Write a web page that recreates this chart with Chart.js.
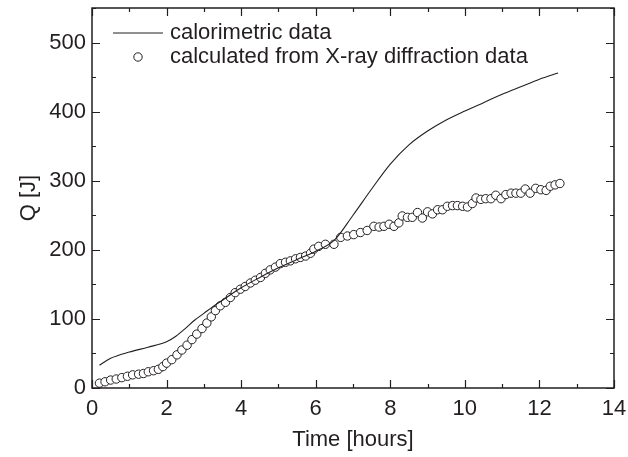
<!DOCTYPE html>
<html><head><meta charset="utf-8">
<script src="https://cdn.jsdelivr.net/npm/chart.js@4/dist/chart.umd.min.js"></script>
<style>html,body{margin:0;padding:0;background:#fff}</style>
</head><body>
<canvas id="c" width="628" height="457"></canvas>
<script>
// Calorimetric data (line)
const calTime = [0.2, 0.5, 1.0, 1.5, 2.0, 2.25, 2.5, 2.75, 3.0, 3.25, 3.5, 4.0, 4.5, 5.0, 5.5, 6.0, 6.5, 7.0, 7.5, 8.0, 8.5, 9.0, 9.5, 10.0, 10.5, 11.0, 11.5, 12.0, 12.5];
const calQ    = [33, 43, 52, 59, 67, 75, 86, 98, 108, 118, 127, 145, 160, 174, 186, 198, 214, 250, 288, 324, 352, 372, 388, 401, 413, 425, 436, 447, 456];
// Calculated from X-ray diffraction data (circles)
const xrdTime = [0.2, 0.35, 0.5, 0.65, 0.8, 0.95, 1.09, 1.25, 1.38, 1.51, 1.65, 1.78, 1.9, 2.0, 2.14, 2.28, 2.41, 2.55, 2.68, 2.81, 2.95, 3.08, 3.2, 3.31, 3.44, 3.58, 3.71, 3.84, 3.98, 4.11, 4.25, 4.38, 4.52, 4.65, 4.78, 4.92, 5.05, 5.19, 5.32, 5.46, 5.59, 5.73, 5.86, 5.95, 6.08, 6.26, 6.49, 6.67, 6.85, 7.02, 7.2, 7.38, 7.56, 7.7, 7.83, 7.97, 8.1, 8.23, 8.32, 8.46, 8.59, 8.73, 8.86, 9.0, 9.13, 9.27, 9.4, 9.53, 9.67, 9.8, 9.94, 10.07, 10.2, 10.3, 10.43, 10.56, 10.7, 10.83, 10.97, 11.1, 11.24, 11.37, 11.5, 11.62, 11.75, 11.9, 12.04, 12.18, 12.29, 12.42, 12.55];
const xrdQ    = [7, 9, 11.5, 13, 15, 17, 19, 20, 21, 23.5, 25, 27, 31, 36, 41, 48, 55, 62, 70, 78, 86, 94, 103, 112, 119, 124, 131, 138, 143, 147, 152, 156, 160, 166, 171, 175, 180, 182, 184, 187, 189, 191, 195, 201, 205, 208, 208, 218, 220, 222, 225, 228, 234, 233, 234, 237, 234, 239, 249, 247, 247, 254, 246, 255, 252, 258, 258, 263, 264, 264, 263, 262, 267, 275, 273, 274, 274, 279, 274, 280, 282, 282, 282, 288, 282, 289, 287, 286, 292, 294, 296];
const xTickValues = [0, 2, 4, 6, 8, 10, 12, 14];
const yTickValues = [0, 100, 200, 300, 400, 500];
const seriesLabels = ['calorimetric data', 'calculated from X-ray diffraction data'];
const xTitle = 'Time [hours]';
const yTitle = 'Q [J]';

const INK = '#231f20';
const FONT = '"Liberation Sans", Arial, sans-serif';
const FS = 22;

const framePlugin = {
  id: 'frame',
  afterDraw(chart) {
    const {ctx, chartArea: a, scales: {x, y}} = chart;
    ctx.save();
    ctx.strokeStyle = INK;
    ctx.lineWidth = 1.5;
    ctx.strokeRect(a.left, a.top, a.right - a.left, a.bottom - a.top);
    ctx.lineWidth = 1.2;
    ctx.beginPath();
    for (let v = x.min; v <= x.max + 1e-9; v += 1) {
      const px = Math.round(x.getPixelForValue(v)) + 0.5;
      const len = (v % 2 === 0) ? 8 : 4;
      ctx.moveTo(px, a.bottom); ctx.lineTo(px, a.bottom - len);
      ctx.moveTo(px, a.top); ctx.lineTo(px, a.top + len);
    }
    for (let v = y.min; v <= y.max + 1e-9; v += 50) {
      const py = Math.round(y.getPixelForValue(v)) + 0.5;
      const len = (v % 100 === 0) ? 8 : 4;
      ctx.moveTo(a.left, py); ctx.lineTo(a.left + len, py);
      ctx.moveTo(a.right, py); ctx.lineTo(a.right - len, py);
    }
    ctx.stroke();

    // legend
    ctx.font = FS + 'px ' + FONT;
    ctx.fillStyle = INK;
    ctx.textBaseline = 'middle';
    const lx = a.left + 21, tx = a.left + 78;
    const ly1 = a.top + 25, ly2 = a.top + 49;
    ctx.lineWidth = 1;
    ctx.beginPath(); ctx.moveTo(lx, ly1); ctx.lineTo(lx + 50, ly1); ctx.stroke();
    ctx.fillText(seriesLabels[0], tx, ly1);
    ctx.beginPath(); ctx.arc(lx + 25, ly2, 4.2, 0, Math.PI * 2);
    ctx.fillStyle = '#fff'; ctx.fill(); ctx.strokeStyle = INK; ctx.stroke();
    ctx.fillStyle = INK;
    ctx.fillText(seriesLabels[1], tx, ly2);
    ctx.restore();
  }
};

new Chart(document.getElementById('c'), {
  type: 'scatter',
  data: {
    datasets: [
      {
        label: seriesLabels[0],
        data: calTime.map((t, i) => ({x: t, y: calQ[i]})),
        showLine: true, cubicInterpolationMode: 'monotone',
        borderColor: INK, borderWidth: 1.1, pointRadius: 0, fill: false
      },
      {
        label: seriesLabels[1],
        data: xrdTime.map((t, i) => ({x: t, y: xrdQ[i]})),
        showLine: false, pointRadius: 4.2, pointStyle: 'circle',
        pointBackgroundColor: '#fff', pointBorderColor: INK, pointBorderWidth: 1
      }
    ]
  },
  options: {
    responsive: false, animation: false, devicePixelRatio: 1,
    layout: {padding: {top: 8, right: 14, left: 0, bottom: 0}},
    plugins: {legend: {display: false}, tooltip: {enabled: false}},
    scales: {
      x: {
        type: 'linear', min: 0, max: 14,
        afterBuildTicks: s => { s.ticks = xTickValues.map(v => ({value: v})); },
        afterFit: s => { s.height = 69; s.paddingLeft = 0; s.paddingRight = 0; },
        grid: {display: false, drawTicks: false},
        border: {display: false},
        ticks: {color: INK, font: {family: FONT, size: FS}, padding: 8, maxRotation: 0},
        title: {display: true, text: xTitle, color: INK, font: {family: FONT, size: FS}, padding: {top: 4}}
      },
      y: {
        type: 'linear', min: 0, max: 550,
        afterBuildTicks: s => { s.ticks = yTickValues.map(v => ({value: v})); },
        afterFit: s => { s.width = 92; s.paddingTop = 0; s.paddingBottom = 0; },
        grid: {display: false, drawTicks: false},
        border: {display: false},
        ticks: {color: INK, font: {family: FONT, size: FS}, padding: 6},
        title: {display: true, text: yTitle, color: INK, font: {family: FONT, size: FS}, padding: {top: 16, bottom: 0}}
      }
    }
  },
  plugins: [framePlugin]
});
</script>
</body></html>
